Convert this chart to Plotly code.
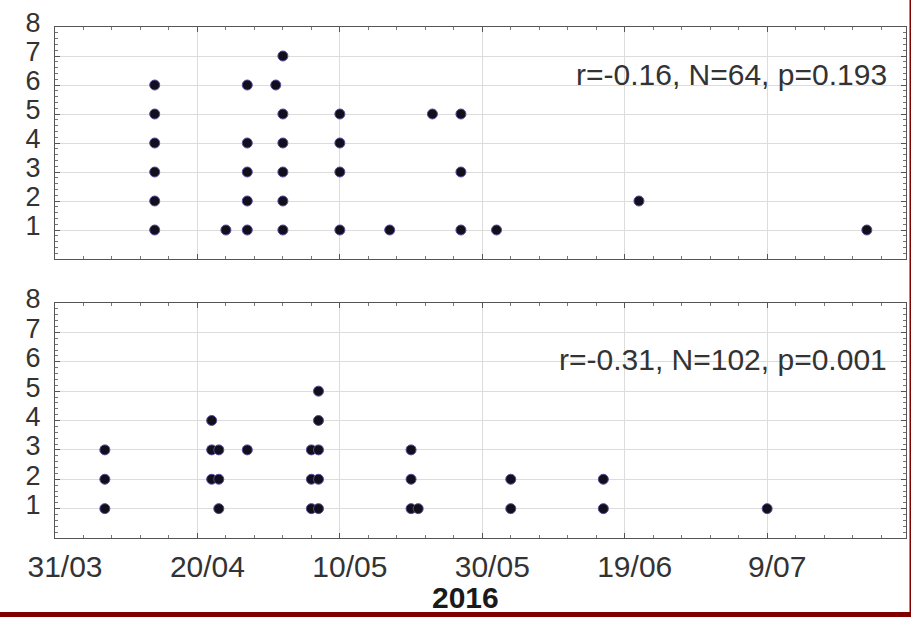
import plotly.graph_objects as go
from plotly.subplots import make_subplots

# Top panel data
top_dates = ["2016-04-14"] * 6 + ["2016-04-24"] + ["2016-04-27"] * 5 + ["2016-05-01"] + \
            ["2016-05-02"] * 6 + ["2016-05-10"] * 4 + ["2016-05-17", "2016-05-23"] + \
            ["2016-05-27"] * 3 + ["2016-06-01", "2016-06-21", "2016-07-23"]
top_vals = [1, 2, 3, 4, 5, 6] + [1] + [1, 2, 3, 4, 6] + [6] + \
           [1, 2, 3, 4, 5, 7] + [1, 3, 4, 5] + [1, 5] + \
           [1, 3, 5] + [1, 2, 1]

# Bottom panel data
bot_dates = ["2016-04-07"] * 3 + ["2016-04-22"] * 3 + ["2016-04-23"] * 3 + ["2016-04-27"] + \
            ["2016-05-06"] * 3 + ["2016-05-07"] * 5 + ["2016-05-20"] * 3 + ["2016-05-21"] + \
            ["2016-06-03"] * 2 + ["2016-06-16"] * 2 + ["2016-07-09"]
bot_vals = [1, 2, 3] + [2, 3, 4] + [1, 2, 3] + [3] + \
           [1, 2, 3] + [1, 2, 3, 4, 5] + [1, 2, 3] + [1] + \
           [1, 2] + [1, 2] + [1]

top_label = "r=-0.16, N=64, p=0.193"
bot_label = "r=-0.31, N=102, p=0.001"
x_title = "2016"
y_ticks = [1, 2, 3, 4, 5, 6, 7, 8]

W, H = 911, 617
ML, MR = 55, 5
PW = W - ML - MR

fig = make_subplots(rows=2, cols=1)

marker = dict(size=10, color="#10101c", line=dict(color="#5b4a9e", width=1))
fig.add_trace(go.Scatter(x=top_dates, y=top_vals, mode="markers", marker=marker,
                         showlegend=False), row=1, col=1)
fig.add_trace(go.Scatter(x=bot_dates, y=bot_vals, mode="markers", marker=marker,
                         showlegend=False), row=2, col=1)

day = 86400000
xcommon = dict(
    type="date", range=["2016-03-31", "2016-07-28 12:00"],
    tick0="2016-03-31", dtick=20 * day, tickformat="%-d/%m",
    ticks="inside", ticklen=5, tickcolor="#555",
    minor=dict(ticks="inside", dtick=4 * day, tick0="2016-03-31", ticklen=3,
               tickcolor="#777", showgrid=False),
    showgrid=True, gridcolor="#dcdcdc", gridwidth=1,
    showline=True, linecolor="#555", linewidth=1, mirror="allticks",
    zeroline=False, tickfont=dict(family="Liberation Sans, Arial", size=30, color="#333"),
    ticklabelshift=10, ticklabelstandoff=2,
)
ycommon = dict(
    range=[0, 8], tickvals=y_ticks, ticks="inside", ticklen=5, tickcolor="#555",
    minor=dict(ticks="inside", dtick=0.2, ticklen=3, tickcolor="#777", showgrid=False),
    showgrid=True, gridcolor="#dcdcdc", gridwidth=1,
    showline=True, linecolor="#555", linewidth=1, mirror="allticks",
    zeroline=False, tickfont=dict(family="Liberation Sans, Arial", size=27, color="#333"),
    ticklabelstandoff=8, ticklabelshift=-4,
)

fig.update_xaxes(**xcommon)
fig.update_yaxes(**ycommon)
fig.update_xaxes(showticklabels=False, row=1, col=1)
fig.update_xaxes(domain=[0, 1])

fig.update_layout(
    yaxis=dict(domain=[1 - 259 / H, 1 - 27 / H]),
    yaxis2=dict(domain=[1 - 538 / H, 1 - 303 / H]),
    width=W, height=H,
    margin=dict(l=ML, r=MR, t=0, b=0, autoexpand=False),
    paper_bgcolor="white", plot_bgcolor="white",
    font=dict(family="Liberation Sans, Arial", color="#333"),
)

ann_font = dict(family="Liberation Sans, Arial", size=30, color="#333")
fig.add_annotation(text=top_label, xref="paper", yref="paper",
                   x=(889 - ML) / PW, y=1 - 74 / H, xanchor="right", yanchor="middle",
                   showarrow=False, font=ann_font)
fig.add_annotation(text=bot_label, xref="paper", yref="paper",
                   x=(889 - ML) / PW, y=1 - 360 / H, xanchor="right", yanchor="middle",
                   showarrow=False, font=ann_font)
fig.add_annotation(text="<b>" + x_title + "</b>", xref="paper", yref="paper",
                   x=(465 - ML) / PW, y=1 - 597 / H, xanchor="center", yanchor="middle",
                   showarrow=False,
                   font=dict(family="Liberation Sans, Arial", size=30, color="#1a1a1a"))

# dark red frame (bottom and right)
red = "#800000"
fig.add_shape(type="rect", xref="paper", yref="paper",
              x0=-ML / PW, x1=(W - ML) / PW, y0=0, y1=5 / H,
              fillcolor=red, line_width=0, layer="above")
fig.add_shape(type="rect", xref="paper", yref="paper",
              x0=(909.5 - ML) / PW, x1=(W - ML) / PW, y0=0, y1=1,
              fillcolor=red, line_width=0, layer="above")

fig.write_html("out.html")
